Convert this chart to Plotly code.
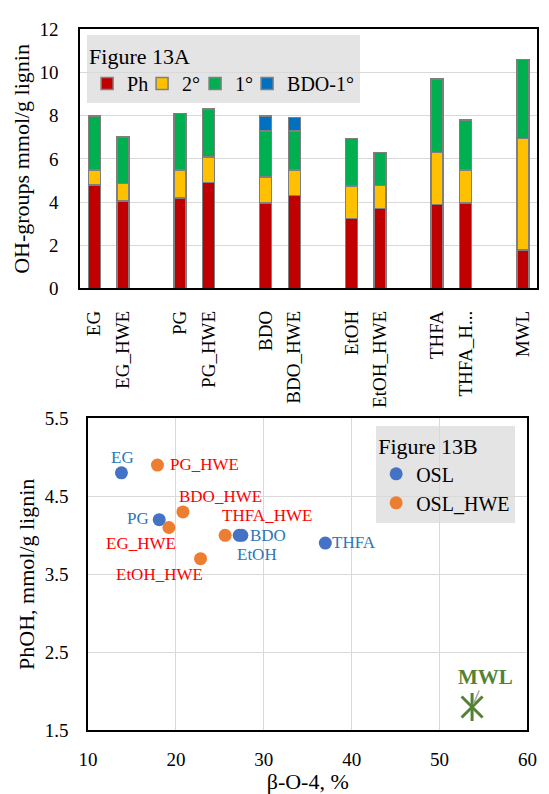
import plotly.graph_objects as go

# ---------------- Figure 13A data ----------------
categories = ["EG", "EG_HWE", "PG", "PG_HWE", "BDO", "BDO_HWE",
              "EtOH", "EtOH_HWE", "THFA", "THFA_H...", "MWL"]
ph_oh = [4.8, 4.05, 4.2, 4.9, 3.97, 4.3, 3.23, 3.7, 3.9, 3.97, 1.77]
sec_oh = [0.68, 0.82, 1.28, 1.18, 1.2, 1.18, 1.51, 1.08, 2.39, 1.51, 5.17]
prim_oh = [2.52, 2.14, 2.62, 2.23, 2.13, 1.82, 2.21, 1.52, 3.42, 2.32, 3.68]
bdo_prim_oh = [0, 0, 0, 0, 0.7, 0.62, 0, 0, 0, 0, 0]
y_ticks_a = [0, 2, 4, 6, 8, 10, 12]

# ---------------- Figure 13B data ----------------
osl_names = ["EG", "PG", "BDO", "EtOH", "THFA"]
osl_bo4 = [13.8, 18.1, 27.5, 27.2, 37.0]
osl_phoh = [4.8, 4.2, 4.0, 4.0, 3.9]
hwe_names = ["PG_HWE", "BDO_HWE", "EG_HWE", "THFA_HWE", "EtOH_HWE"]
hwe_bo4 = [17.9, 20.8, 19.2, 25.6, 22.8]
hwe_phoh = [4.9, 4.3, 4.1, 4.0, 3.7]
mwl_name = ["MWL"]
mwl_bo4 = [53.7]
mwl_phoh = [1.8]
x_ticks_b = [10, 20, 30, 40, 50, 60]
y_ticks_b = [1.5, 2.5, 3.5, 4.5, 5.5]

# slot positions: pairs separated by an empty slot
pos = [i + i // 2 for i in range(len(categories))]

FONT = "Liberation Serif, Times New Roman, serif"
W, H = 549, 794

fig = go.Figure()
outline = dict(color="#7F7F7F", width=1.5)
legend_w = [10, 8, 7, 68]
for (name, vals, col), lw in zip([("Ph", ph_oh, "#C00000"), ("2°", sec_oh, "#FFC000"),
                                   ("1°", prim_oh, "#00B050"), ("BDO-1°", bdo_prim_oh, "#0070C0")],
                                  legend_w):
    fig.add_trace(go.Bar(x=pos, y=vals, name=name, width=0.42,
                         marker=dict(color=col, line=outline), legendwidth=lw,
                         xaxis="x", yaxis="y", legend="legend"))

fig.add_trace(go.Scatter(x=osl_bo4, y=osl_phoh, name="OSL", mode="markers",
                         marker=dict(color="#4472C4", size=13),
                         xaxis="x2", yaxis="y2", legend="legend2"))
fig.add_trace(go.Scatter(x=hwe_bo4, y=hwe_phoh, name="OSL_HWE", mode="markers",
                         marker=dict(color="#ED7D31", size=13),
                         xaxis="x2", yaxis="y2", legend="legend2"))
fig.add_trace(go.Scatter(x=mwl_bo4, y=mwl_phoh, mode="markers",
                         marker=dict(symbol="x-thin-open", size=21, color="#548235",
                                     line=dict(color="#548235", width=3)),
                         showlegend=False, xaxis="x2", yaxis="y2"))
fig.add_trace(go.Scatter(x=mwl_bo4, y=mwl_phoh, mode="markers",
                         marker=dict(symbol="line-ns-open", size=20, color="#548235",
                                     line=dict(color="#548235", width=3)),
                         showlegend=False, xaxis="x2", yaxis="y2"))

# data labels (pixel offsets of label centres from the points)
osl_off = [(1, -15), (-21, -1), (26, 0), (18, 19), (29, -1)]
hwe_off = [(47, -1), (38, -15), (-28, 16), (42, -20), (-41, 16)]
annotations = []
for names, xs, ys, offs, col in [(osl_names, osl_bo4, osl_phoh, osl_off, "#2E75B6"),
                                 (hwe_names, hwe_bo4, hwe_phoh, hwe_off, "#FF0000")]:
    for t, xv, yv, (dx, dy) in zip(names, xs, ys, offs):
        annotations.append(dict(x=xv, y=yv, xref="x2", yref="y2", text=t,
                                showarrow=False, xshift=dx, yshift=-dy, borderpad=0,
                                font=dict(color=col, size=17, family=FONT)))
for t, xv, yv in zip(mwl_name, mwl_bo4, mwl_phoh):
    annotations.append(dict(x=xv, y=yv, xref="x2", yref="y2", text="<b>" + t + "</b>",
                            showarrow=True, ax=13, ay=-30, axref="pixel", ayref="pixel",
                            arrowhead=0, arrowwidth=1.5, arrowcolor="#A6A6A6", standoff=3,
                            font=dict(color="#548235", size=21, family=FONT)))

axis_common = dict(showline=True, mirror=True, linecolor="black", linewidth=1.6,
                   zeroline=False, ticks="", tickfont=dict(size=19, family=FONT, color="black"))

fig.update_layout(
    width=W, height=H,
    margin=dict(l=0, r=0, t=0, b=0),
    paper_bgcolor="white", plot_bgcolor="white",
    font=dict(family=FONT, color="black", size=19),
    barmode="stack",
    annotations=annotations,
    xaxis=dict(domain=[72.7 / W, 547 / W], range=[-0.5, 15.5],
               tickvals=pos, ticktext=categories, tickangle=-90,
               showgrid=False, ticklabelstandoff=13, anchor="y", **axis_common),
    yaxis=dict(domain=[1 - 286 / H, 1 - 20 / H], range=[0, 12],
               tickvals=y_ticks_a, showgrid=True, gridcolor="#D9D9D9", gridwidth=1.3,
               ticklabelstandoff=16, anchor="x",
               title=dict(text="OH-groups mmol/g lignin", font=dict(size=22, family=FONT),
                          standoff=4),
               **axis_common),
    xaxis2=dict(domain=[81 / W, 537 / W], range=[10, 60], tickvals=x_ticks_b,
                showgrid=True, gridcolor="#D9D9D9", gridwidth=1.3, anchor="y2",
                ticklabelstandoff=11,
                title=dict(text="β-O-4, %", font=dict(size=22, family=FONT), standoff=2),
                **axis_common),
    yaxis2=dict(domain=[1 - 740 / H, 1 - 419.3 / H], range=[1.5, 5.5], tickvals=y_ticks_b,
                tickformat=".1f",
                showgrid=True, gridcolor="#D9D9D9", gridwidth=1.3, anchor="x2",
                ticklabelstandoff=14,
                title=dict(text="PhOH, mmol/g lignin", font=dict(size=22, family=FONT),
                           standoff=4),
                **axis_common),
    legend=dict(orientation="h", x=80 / W, y=1 - 26 / H, xanchor="left", yanchor="top",
                bgcolor="rgba(217,217,217,0.7)",
                title=dict(text="Figure 13A", side="top", font=dict(size=22, family=FONT)),
                font=dict(size=20, family=FONT), traceorder="normal",
                itemwidth=30, tracegroupgap=0),
    legend2=dict(orientation="v", x=380 / W, y=1 - 427 / H, xanchor="left", yanchor="top",
                 bgcolor="rgba(217,217,217,0.7)",
                 title=dict(text="Figure 13B", font=dict(size=22, family=FONT)),
                 font=dict(size=20, family=FONT), itemwidth=30),
    showlegend=True,
)

fig.write_html("out.html")
